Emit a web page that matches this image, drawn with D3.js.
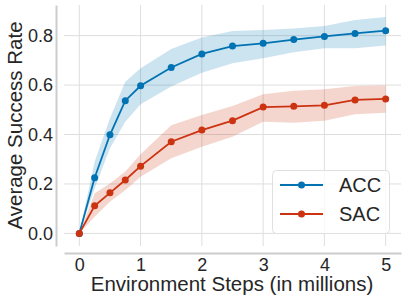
<!DOCTYPE html>
<html>
<head>
<meta charset="utf-8">
<script src="https://cdn.jsdelivr.net/npm/d3@7"></script>
<style>
  body { margin: 0; background: #fff; }
  svg text { font-family: "Liberation Sans", Arial, sans-serif; fill: #262626; }
</style>
</head>
<body>
<svg id="chart"></svg>
<script>
// environment steps in millions
var steps = [0, 0.25, 0.5, 0.75, 1, 1.5, 2, 2.5, 3, 3.5, 4, 4.5, 5];

var accMean  = [0, 0.225, 0.399, 0.537, 0.597, 0.671, 0.726, 0.758, 0.769, 0.784, 0.797, 0.809, 0.820];
var accUpper = [0, 0.290, 0.466, 0.614, 0.668, 0.746, 0.793, 0.819, 0.823, 0.829, 0.839, 0.863, 0.875];
var accLower = [0, 0.182, 0.344, 0.452, 0.522, 0.594, 0.650, 0.688, 0.709, 0.733, 0.749, 0.749, 0.760];

var sacMean  = [0, 0.112, 0.164, 0.216, 0.272, 0.371, 0.418, 0.456, 0.511, 0.514, 0.518, 0.540, 0.544];
var sacUpper = [0, 0.162, 0.202, 0.250, 0.320, 0.438, 0.479, 0.515, 0.563, 0.577, 0.583, 0.596, 0.598];
var sacLower = [0, 0.067, 0.128, 0.175, 0.229, 0.304, 0.351, 0.391, 0.452, 0.448, 0.456, 0.482, 0.488];

var xTicks = [0, 1, 2, 3, 4, 5];
var yTicks = [0, 0.2, 0.4, 0.6, 0.8];

var seriesNames = ["ACC", "SAC"];
var colors = ["#0173b2", "#cc3311"];

// ----------------------------------------------------

var width = 407, height = 301;
var plotLeft = 64, plotRight = 401, plotTop = 5, plotBottom = 246;

var svg = d3.select("#chart")
    .attr("width", width)
    .attr("height", height);

var x = d3.scaleLinear().domain([-0.25, 5.25]).range([plotLeft, plotRight]);
var y = d3.scaleLinear().domain([-0.051, 0.924]).range([plotBottom, plotTop]);

// grid
svg.append("g").selectAll("line")
    .data(xTicks)
    .enter().append("line")
    .attr("x1", function (d) { return x(d); })
    .attr("x2", function (d) { return x(d); })
    .attr("y1", plotTop)
    .attr("y2", plotBottom)
    .attr("stroke", "#dedede")
    .attr("stroke-width", 1);

svg.append("g").selectAll("line")
    .data(yTicks)
    .enter().append("line")
    .attr("x1", plotLeft)
    .attr("x2", plotRight)
    .attr("y1", function (d) { return y(d); })
    .attr("y2", function (d) { return y(d); })
    .attr("stroke", "#dedede")
    .attr("stroke-width", 1);

// axes (offset spines)
var yAxis = svg.append("g")
    .attr("transform", "translate(56,0)")
    .call(d3.axisLeft(y).tickValues(yTicks).tickFormat(d3.format(".1f")).tickSize(0).tickSizeOuter(0).tickPadding(3));

var xAxis = svg.append("g")
    .attr("transform", "translate(0,253)")
    .call(d3.axisBottom(x).tickValues(xTicks).tickFormat(d3.format("d")).tickSize(0).tickSizeOuter(0).tickPadding(5));

[yAxis, xAxis].forEach(function (a) {
    a.select(".domain").attr("stroke", "#cccccc").attr("stroke-width", 2);
    a.selectAll("text").style("font-size", "18px").attr("fill", "#262626");
});

// --------------------------------------------------------------------------
var series = [
    { name: seriesNames[0], mean: accMean, lo: accLower, hi: accUpper, color: colors[0] },
    { name: seriesNames[1], mean: sacMean, lo: sacLower, hi: sacUpper, color: colors[1] }
];

var area = d3.area()
    .x(function (d) { return x(d.s); })
    .y0(function (d) { return y(d.lo); })
    .y1(function (d) { return y(d.hi); });

var line = d3.line()
    .x(function (d) { return x(d.s); })
    .y(function (d) { return y(d.m); });

series.forEach(function (sr) {
    var pts = steps.map(function (s, i) { return { s: s, m: sr.mean[i], lo: sr.lo[i], hi: sr.hi[i] }; });
    svg.append("path")
        .attr("d", area(pts))
        .attr("fill", sr.color)
        .attr("fill-opacity", 0.2);
    sr.pts = pts;
});

series.forEach(function (sr) {
    svg.append("path")
        .attr("d", line(sr.pts))
        .attr("fill", "none")
        .attr("stroke", sr.color)
        .attr("stroke-width", 1.8);
    svg.append("g").selectAll("circle")
        .data(sr.pts)
        .enter().append("circle")
        .attr("cx", function (d) { return x(d.s); })
        .attr("cy", function (d) { return y(d.m); })
        .attr("r", 3.5)
        .attr("fill", sr.color);
});

// axis titles
svg.append("text")
    .attr("transform", "translate(22," + ((plotTop + plotBottom) / 2) + ") rotate(-90)")
    .style("text-anchor", "middle")
    .style("font-size", "20.5px")
    .text("Average Success Rate");

svg.append("text")
    .attr("x", 232)
    .attr("y", 291)
    .style("text-anchor", "middle")
    .style("font-size", "20.5px")
    .text("Environment Steps (in millions)");

// --------------------------------------------------------------------------
var legend = svg.append("g");
legend.append("rect")
    .attr("x", 272.5).attr("y", 170.5)
    .attr("width", 117).attr("height", 63)
    .attr("rx", 4)
    .attr("fill", "#ffffff").attr("fill-opacity", 0.8)
    .attr("stroke", "#e0e0e0");

var item = legend.selectAll(".item")
    .data(series)
    .enter().append("g")
    .attr("transform", function (d, i) { return "translate(0," + (185 + i * 29) + ")"; });

item.append("line")
    .attr("x1", 280).attr("x2", 323)
    .attr("stroke", function (d) { return d.color; })
    .attr("stroke-width", 1.8);
item.append("circle")
    .attr("cx", 301.5).attr("r", 3.5)
    .attr("fill", function (d) { return d.color; });
item.append("text")
    .attr("x", 339)
    .attr("dy", "0.35em")
    .style("font-size", "20px")
    .text(function (d) { return d.name; });
</script>
</body>
</html>
